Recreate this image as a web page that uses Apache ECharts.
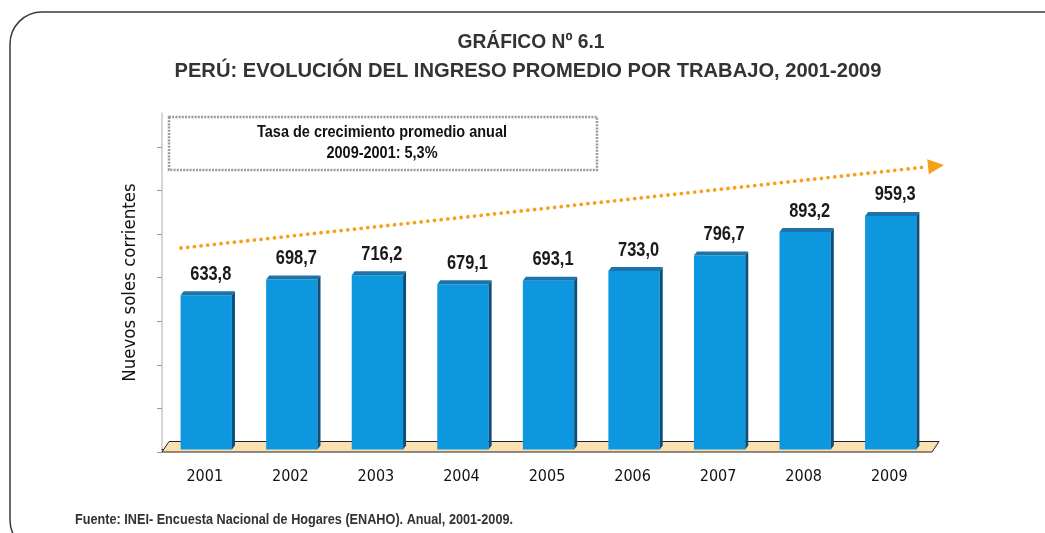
<!DOCTYPE html>
<html>
<head>
<meta charset="utf-8">
<script src="https://cdn.jsdelivr.net/npm/echarts@6/dist/echarts.min.js"></script>
<style>
  html, body { margin: 0; padding: 0; background: #fff; }
  #myChart { width: 1045px; height: 533px; }
</style>
</head>
<body>
<div id="myChart"></div>
<script type="text/javascript">
// datos del grafico
var anios = ['2001', '2002', '2003', '2004', '2005', '2006', '2007', '2008', '2009'];
var ingreso = [633.8, 698.7, 716.2, 679.1, 693.1, 733.0, 796.7, 893.2, 959.3];
var tituloLineas = ['GRÁFICO Nº 6.1', 'PERÚ: EVOLUCIÓN DEL INGRESO PROMEDIO POR TRABAJO, 2001-2009'];
var notaTasa = ['Tasa de crecimiento promedio anual', '2009-2001: 5,3%'];
var fuente = 'Fuente: INEI- Encuesta Nacional de Hogares (ENAHO). Anual, 2001-2009.';

var CONDENSADA = '"Liberation Sans Narrow", "Arial Narrow", "DejaVu Sans Condensed", sans-serif';
var SANS = '"Liberation Sans", Arial, sans-serif';
var ESTRECHO = 0.82; // Arial Narrow = Arial al 82% de ancho

// escala del eje
var yMin = -10, yMax = 1382, yPaso = 179;
var ticksY = [];
for (var t = yMin; t < yMax; t += yPaso) ticksY.push(t);

function fmt(v)
{
	return v.toFixed(1).replace('.', ',');
}

// medir texto para ajustarlo a un ancho
var ctx = document.createElement('canvas').getContext('2d');
function escalaAncho(texto, font, ancho)
{
	ctx.font = font;
	return ancho / ctx.measureText(texto).width;
}

// texto estrecho ajustado a un ancho dado
function textoAjustado(texto, x, y, size, ancho, align, color)
{
	var font = 'bold ' + size + 'px ' + SANS;
	return {
		type: 'text', x: x, y: y,
		scaleX: escalaAncho(texto, font, ancho),
		style: { text: texto, font: font, fill: color, align: align, verticalAlign: 'middle' },
		z: 10
	};
}

// barra con efecto 3D
function barra3D(params, api)
{
	var idx = api.value(0);
	var v = api.value(1);
	var top = api.coord([idx, v]);
	var base = api.coord([idx, 0]);
	var w = api.size([1, 0])[0] * 0.6;
	var x0 = top[0] - w / 2 + 1.5;
	var d = 3, dy = 4;
	return {
		type: 'group',
		children: [
			{
				type: 'rect',
				shape: { x: x0, y: top[1], width: w, height: base[1] - top[1] },
				style: { fill: '#0d97de' }
			},
			{
				type: 'polygon',
				shape: { points: [[x0, top[1]], [x0 + d, top[1] - dy], [x0 + w + d, top[1] - dy], [x0 + w, top[1]]] },
				style: { fill: '#1c74aa' }
			},
			{
				type: 'polygon',
				shape: { points: [[x0 + w, top[1]], [x0 + w + d, top[1] - dy], [x0 + w + d, base[1] - dy], [x0 + w, base[1]]] },
				style: { fill: '#0b4f7c' }
			},
			{
				type: 'text',
				x: top[0] + 6,
				y: top[1] - dy - 7,
				scaleX: ESTRECHO,
				style: {
					text: fmt(v),
					fill: '#1a1a1a',
					font: 'bold 20px ' + SANS,
					align: 'center',
					verticalAlign: 'bottom'
				}
			}
		]
	};
}

// piso del grafico
function piso(params, api)
{
	var cs = params.coordSys;
	var b = cs.y + cs.height;
	return {
		type: 'polygon',
		shape: { points: [[cs.x, b], [cs.x + 7, b - 10.5], [cs.x + cs.width + 7, b - 10.5], [cs.x + cs.width, b]] },
		style: { fill: '#fce1b0', stroke: '#222', lineWidth: 1 }
	};
}

var option = {
	animation: false,
	textStyle: { fontFamily: CONDENSADA },
	grid: { left: 162, right: 113, top: 113, bottom: 81 },
	xAxis: {
		type: 'category',
		data: anios,
		boundaryGap: true,
		axisLine: { lineStyle: { color: '#111', width: 1 } },
		axisTick: { length: 5, lineStyle: { color: '#333' } },
		axisLabel: { color: '#111', fontSize: 16, margin: 17, fontFamily: CONDENSADA }
	},
	yAxis: {
		type: 'value',
		min: yMin,
		max: yMax,
		name: 'Nuevos soles corrientes',
		nameLocation: 'middle',
		nameGap: 22,
		nameRotate: 90,
		nameTextStyle: { color: '#111', fontSize: 18.5, fontFamily: CONDENSADA },
		axisLine: { show: true, lineStyle: { color: '#c8c8c8', width: 1.5 } },
		axisTick: { show: true, length: 5, customValues: ticksY, lineStyle: { color: '#999' } },
		axisLabel: { show: false },
		splitLine: { show: false }
	},
	series: [
		{
			type: 'custom',
			renderItem: piso,
			data: [[0, 0]],
			z: 1,
			silent: true
		},
		{
			type: 'custom',
			renderItem: barra3D,
			data: ingreso.map(function (v, i) { return [i, v]; }),
			encode: { x: 0, y: 1 },
			z: 2
		}
	],
	graphic: [
		{
			type: 'rect',
			shape: { x: 10, y: 12, width: 1080, height: 540, r: 32 },
			style: { fill: 'none', stroke: '#3a3a3a', lineWidth: 1.5 },
			z: 0
		},
		textoAjustado(tituloLineas[0], 531, 42, 21, 147, 'center', '#333'),
		textoAjustado(tituloLineas[1], 528, 71, 21, 707, 'center', '#333'),
		{
			type: 'rect',
			shape: { x: 169, y: 117, width: 428, height: 53 },
			style: { fill: '#fff', stroke: '#9a9a9a', lineWidth: 2.5, lineDash: [2, 1.2] }
		},
		textoAjustado(notaTasa[0], 382, 132, 17, 250, 'center', '#111'),
		textoAjustado(notaTasa[1], 382, 153, 17, 111, 'center', '#111'),
		{
			type: 'line',
			shape: { x1: 181, y1: 248, x2: 928, y2: 166.7 },
			style: { stroke: '#f7a01c', lineWidth: 3.8, lineCap: 'round', lineDash: [0.01, 6.7] },
			z: 5
		},
		{
			type: 'polygon',
			shape: { points: [[944, 165], [928.8, 174.2], [927.2, 159.2]] },
			style: { fill: '#f7a01c' },
			z: 5
		},
		textoAjustado(fuente, 75, 520, 15, 438, 'left', '#333')
	]
};

echarts.init(document.getElementById('myChart')).setOption(option);
</script>
</body>
</html>
